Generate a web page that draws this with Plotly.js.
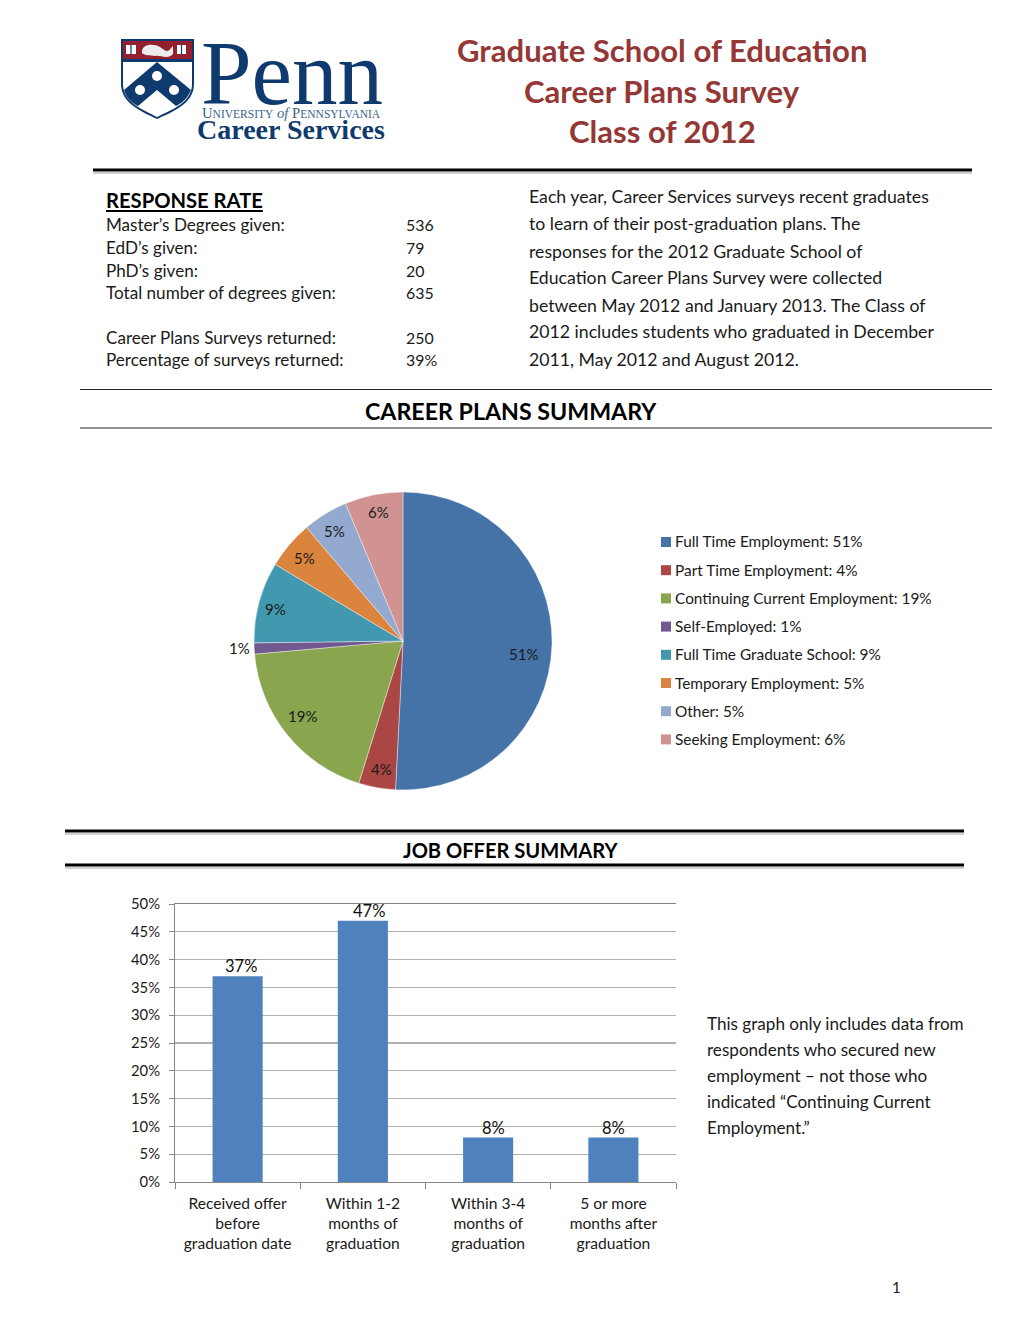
<!DOCTYPE html>
<html><head><meta charset="utf-8">
<script src="https://cdn.plot.ly/plotly-3.0.1.min.js"></script>
<style>html,body{margin:0;padding:0;background:#fff}#c{width:1020px;height:1320px}</style>
</head><body><div id="c"></div>
<script>
const pieCategories = ["Full Time Employment","Part Time Employment","Continuing Current Employment","Self-Employed","Full Time Graduate School","Temporary Employment","Other","Seeking Employment"];
const pieValues = [50.8,4.0,18.8,1.2,8.8,5.2,4.9,6.3];
const pieLabels = ["51%","4%","19%","1%","9%","5%","5%","6%"];
const barCategories = ["Received offer<br>before<br>graduation date","Within 1-2<br>months of<br>graduation","Within 3-4<br>months of<br>graduation","5 or more<br>months after<br>graduation"];
const barValues = [37,47,8,8];
const barLabels = ["37%","47%","8%","8%"];
const yTicks = [0,5,10,15,20,25,30,35,40,45,50];
const titleLines = ["Graduate School of Education","Career Plans Survey","Class of 2012"];
const responseRows = [["Master\u2019s Degrees given:","536"],["EdD\u2019s given:","79"],["PhD\u2019s given:","20"],["Total number of degrees given:","635"],["Career Plans Surveys returned:","250"],["Percentage of surveys returned:","39%"]];
const introLines = ["Each year, Career Services surveys recent graduates","to learn of their post-graduation plans. The","responses for the 2012 Graduate School of","Education Career Plans Survey were collected","between May 2012 and January 2013. The Class of","2012 includes students who graduated in December","2011, May 2012 and August 2012."];
const noteLines = ["This graph only includes data from","respondents who secured new","employment \u2013 not those who","indicated \u201cContinuing Current","Employment.\u201d"];

// layout helpers
const W=1020,H=1320,F="Lato, 'Open Sans', sans-serif",SERIF="'Liberation Serif', serif";
const px=x=>x/W, py=y=>1-y/H, P=(x,y)=>px(x).toFixed(5)+","+py(y).toFixed(5);
const ann=[],shp=[];
function T(text,x,y,size,opt={}){ann.push({text,x:px(x),y:py(y-1),xref:"paper",yref:"paper",xanchor:opt.a||"left",yanchor:"middle",showarrow:false,
  font:{family:opt.f||F,size,color:opt.c||"#1a1a1a"},borderpad:0,borderwidth:0});}
function L(x0,y,x1,w,c){shp.push({type:"line",xref:"paper",yref:"paper",x0:px(x0),x1:px(x1),y0:py(y),y1:py(y),line:{color:c,width:w}});}
function R(x0,y0,x1,y1,c){shp.push({type:"rect",xref:"paper",yref:"paper",x0:px(x0),x1:px(x1),y0:py(y0),y1:py(y1),fillcolor:c,line:{width:0}});}
function PATH(pts,fill){shp.push({type:"path",xref:"paper",yref:"paper",path:pts,fillcolor:fill,line:{width:0}});}
function RULE(x0,y,x1){L(x0,y+3,x1,2,"#d0d0d0");L(x0,y,x1,3.2,"#000");}

// title
const NAVY="#0f3a6e",RED="#953735";
titleLines.forEach((t,i)=>T("<b>"+t+"</b>",662,[51,92,132][i],31.1,{a:"center",c:RED}));

// logo shield
PATH("M"+P(121,39)+" L"+P(194,39)+" L"+P(194,84)+" C"+P(194,104)+" "+P(172,112)+" "+P(157,119)+" C"+P(143,112)+" "+P(121,104)+" "+P(121,84)+" Z",NAVY);
PATH("M"+P(123,62)+" L"+P(192,62)+" L"+P(192,84)+" C"+P(192,103)+" "+P(171,110)+" "+P(157,117)+" C"+P(144,110)+" "+P(123,103)+" "+P(123,84)+" Z","#fff");
R(123,41,192,59,"#93202f");
PATH("M"+P(157,62)+" L"+P(191,90)+" C"+P(187,100)+" "+P(180,104)+" "+P(176,106)+" L"+P(157,90)+" L"+P(138,106)+" C"+P(134,104)+" "+P(127,100)+" "+P(124,90)+" Z",NAVY);
[[157,76],[140,90],[174,90]].forEach(c=>shp.push({type:"circle",xref:"paper",yref:"paper",x0:px(c[0]-5),x1:px(c[0]+5),y0:py(c[1]+5),y1:py(c[1]-5),fillcolor:"#fff",line:{width:0}}));
[[126,136],[177,191]].forEach(b=>{R(b[0],45,b[1]-(b[0]>150?5:0),54,"#fff");R((b[0]+b[1]-(b[0]>150?5:0))/2-0.6,45,(b[0]+b[1]-(b[0]>150?5:0))/2+0.6,54,NAVY);});
PATH("M"+P(142,53)+" C"+P(141,44)+" "+P(153,43)+" "+P(160,47)+" C"+P(165,51)+" "+P(168,53)+" "+P(171,48)+" L"+P(173,46)+" L"+P(173,54)+" C"+P(167,60)+" "+P(161,55)+" "+P(155,56)+" C"+P(150,55)+" "+P(145,56)+" "+P(142,53)+" Z","#ececec");
T("Penn",201,74.5,91,{f:SERIF,c:NAVY});
T('U<span style="font-size:11.5px">NIVERSITY</span> <i>of</i> P<span style="font-size:11.5px">ENNSYLVANIA</span>',202,114,14.7,{f:SERIF,c:"#3d5f8a"});
T("<b>Career Services</b>",197,130,28,{f:SERIF,c:NAVY});

RULE(93,170,972);

// response rate
T("<b><u>RESPONSE RATE</u></b>",106,201,20.2,{c:"#000"});
const rowY=[226,248.5,271,293.5,338,360.5];
responseRows.forEach((r,i)=>{T(r[0],106,rowY[i],17.1);T(r[1],406,rowY[i],15.9);});
introLines.forEach((t,i)=>T(t,529,198+i*27,17.7));

L(80,389.5,992,1,"#222");L(80,428,992,1,"#222");
T("<b>CAREER PLANS SUMMARY</b>",510.5,412,23.2,{a:"center",c:"#000"});

// pie labels and legend
const pieLabelPos=[[523.5,654.5],[381,769.5],[302.5,717],[239,649.5],[275.5,609.5],[304.5,558.5],[334,532.5],[378,513.5]];
pieLabels.forEach((t,i)=>T(t,pieLabelPos[i][0],pieLabelPos[i][1],15,{a:"center"}));
const pieColors=["#4673a7","#aa4643","#89a54e","#71588f","#4198af","#db843d","#93a9cf","#d19392"];
pieCategories.forEach((c,i)=>{const y=542+i*28.2;R(661,y-5,671,y+5,pieColors[i]);T(c+": "+pieLabels[i],674.5,y+0.5,15.4);});

RULE(65,831,964);RULE(65,865,964);
T("<b>JOB OFFER SUMMARY</b>",510.5,850.5,20.1,{a:"center",c:"#000"});

noteLines.forEach((t,i)=>T(t,707,1024.5+i*26,17.1));
T("1",896,1288,15,{a:"center"});

// bar labels anchored on the data
const barShift=[3,6,5,0];
barValues.forEach((v,i)=>ann.push({text:barLabels[i],x:barCategories[i],y:v,xref:"x",yref:"y",xshift:barShift[i],yshift:-1,yanchor:"bottom",showarrow:false,borderpad:0,font:{family:F,size:16.5,color:"#111"}}));

const traces=[
 {type:"pie",values:pieValues,labels:pieCategories,sort:false,direction:"clockwise",rotation:0,textinfo:"none",hoverinfo:"label+percent",
  marker:{colors:pieColors,line:{color:"#fff",width:0.4}},domain:{x:[px(254),px(552)],y:[py(790),py(492)]},showlegend:false},
 {type:"bar",x:barCategories,y:barValues,marker:{color:"#4f81bd"},width:0.4,xaxis:"x",yaxis:"y",showlegend:false}
];
const layout={width:W,height:H,margin:{l:0,r:0,t:0,b:0},paper_bgcolor:"#fff",plot_bgcolor:"#fff",showlegend:false,
 font:{family:F,color:"#1a1a1a"},annotations:ann,shapes:shp,
 xaxis:{domain:[px(175),px(676)],anchor:"y",type:"category",tickson:"boundaries",ticks:"outside",ticklen:6,tickcolor:"#868686",linecolor:"#868686",linewidth:1,showline:true,mirror:true,showgrid:false,zeroline:false,tickfont:{size:15.6,family:F,color:"#1a1a1a"},tickangle:0,ticklabelstandoff:7,fixedrange:true},
 yaxis:{domain:[py(1182),py(904)],anchor:"x",range:[0,50],tickvals:yTicks,ticktext:yTicks.map(v=>v+"%"),ticks:"outside",ticklen:5,tickcolor:"#868686",linecolor:"#868686",linewidth:1,showline:true,gridcolor:"#b0b0b0",gridwidth:1.2,zeroline:false,tickfont:{size:14.8,family:F,color:"#1a1a1a"},ticklabelstandoff:6,fixedrange:true}
};
Plotly.newPlot("c",traces,layout,{displayModeBar:false,staticPlot:true});
</script></body></html>
